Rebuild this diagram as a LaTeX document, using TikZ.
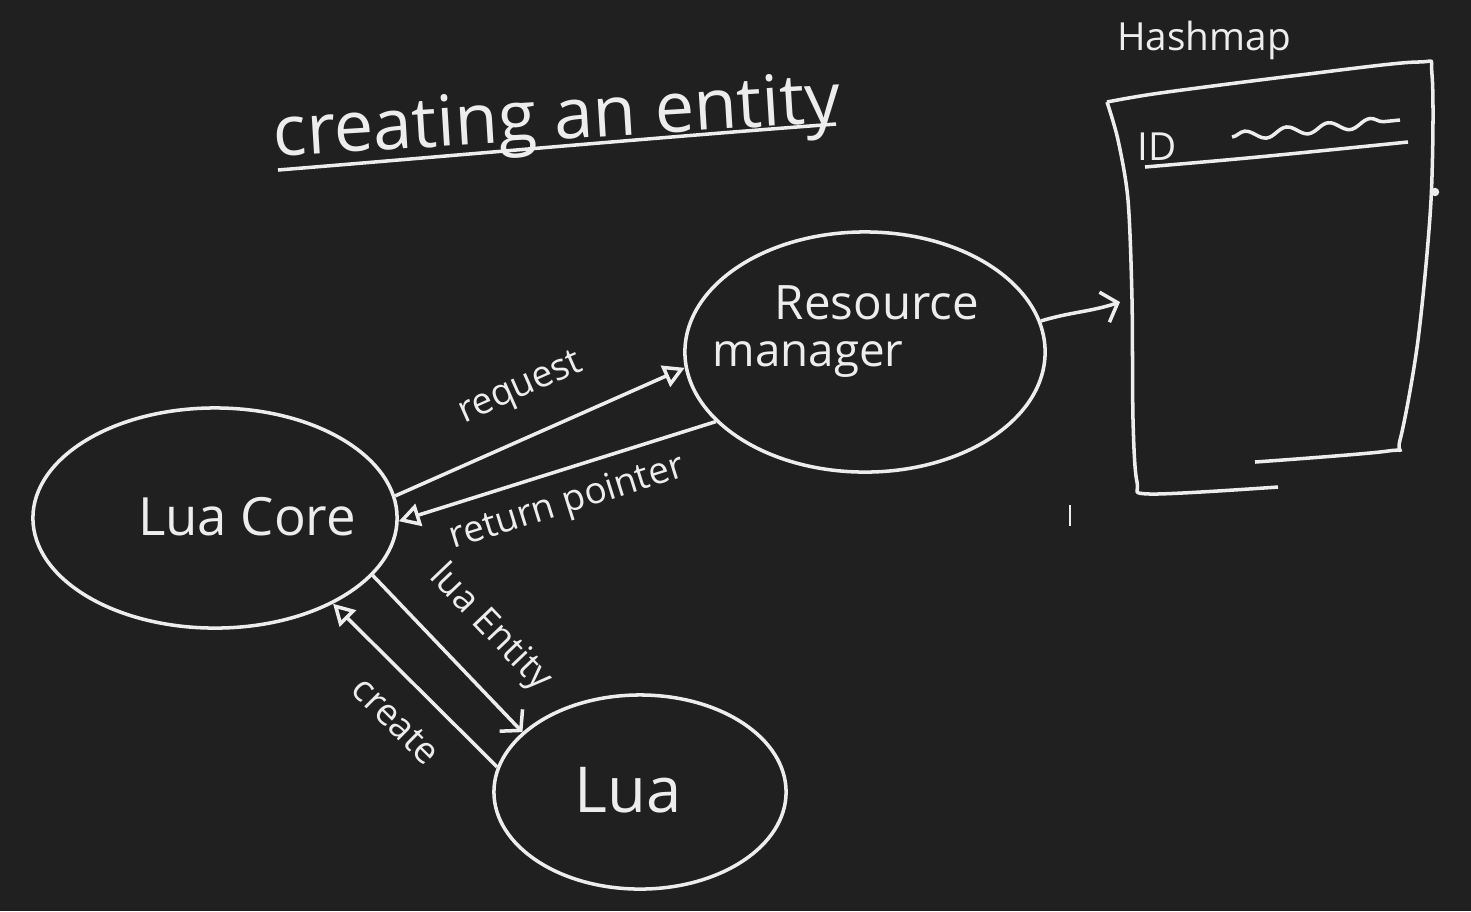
\documentclass[tikz,border=0pt]{standalone}
\usepackage{fontspec}
\setmainfont{Open Sans}
\usetikzlibrary{arrows.meta, positioning, shapes.geometric, decorations.pathmorphing}
\definecolor{Board}{HTML}{212020}
\definecolor{Chalk}{HTML}{EDEDED}

\begin{document}
\begin{tikzpicture}[x=0.01cm, y=-0.01cm, line width=1pt, color=Chalk,
  blob/.style={draw, ellipse, inner sep=0pt},
  lbl/.style={font=\fontsize{15}{18}\selectfont},
  tag/.style={font=\fontsize{10.5}{12}\selectfont, inner sep=1pt},
  push/.style={-{Triangle[open, length=6pt, width=6.5pt]}},
  give/.style={-{Straight Barb[length=4pt, width=9pt]}}]
  \fill[Board] (0,0) rectangle (1471,911);

  % title
  \node[font=\fontsize{20}{24}\selectfont, rotate=3.5] (title) at (557,122) {creating an entity};
  \draw (278,170) .. controls (450,156) and (650,138) .. (836,124);

  % the three blobs
  \node[blob, minimum width=3.64cm, minimum height=2.2cm] (luacore) at (215,518) {};
  \node[blob, minimum width=3.6cm, minimum height=2.4cm] (resmgr) at (865,352) {};
  \node[blob, minimum width=2.92cm, minimum height=1.94cm] (lua) at (640,792) {};
  \node[lbl] (luacoretxt) at (247,517) {Lua Core};
  \node[lbl, font=\fontsize{13.5}{16}\selectfont] (restxt) at (877,303) {Resource};
  \node[lbl, font=\fontsize{13}{16}\selectfont] (mgrtxt) at (808,360) {manager};
  \node[lbl, font=\fontsize{18}{20}\selectfont] (luatxt) at (628,790) {Lua};

  % hashmap
  \node[font=\fontsize{11}{13}\selectfont] (hmtitle) at (1204,40) {Hashmap};
  \draw plot[smooth, tension=0.5] coordinates {(1107,102) (1160,93) (1300,75) (1418,62)
    (1432,75) (1431,200) (1418,340) (1400,440) (1388,451) (1255,462)};
  \draw plot[smooth, tension=0.5] coordinates {(1107,102) (1118,140) (1128,200) (1132,300)
    (1133,420) (1137,482) (1150,494) (1278,487)};
  \coordinate (hmin) at (1120,302);
  \node[font=\fontsize{11}{13}\selectfont, inner sep=1pt] (idtxt) at (1157,147) {ID};
  \draw (1145,167) .. controls (1250,158) .. (1408,142);
  \draw[decorate, decoration={snake, segment length=0.42cm, amplitude=0.045cm}]
    (1232,137) -- (1400,120);
  \draw[line width=0.6pt] (1070,505) -- (1070,526);
  \fill (1435,192) circle (1.2pt);

  % connectors
  \draw[push] (luacore.7) -- node[above=7pt, sloped, tag] {request} (resmgr.185);
  \draw[push] (resmgr.205) -- node[pos=0.5, below=3pt, sloped, tag] {return pointer} (luacore.-1);
  \draw[give] (luacore.-20) -- node[pos=0.55, above=7pt, sloped, tag] {lua Entity} (lua.153);
  \draw[push] (lua.170) -- node[pos=0.45, below=6pt, sloped, tag] {create} (luacore.-36);
  \draw[give] (resmgr.10) .. controls (1070,312) and (1090,312) .. (hmin);
\end{tikzpicture}
\end{document}
